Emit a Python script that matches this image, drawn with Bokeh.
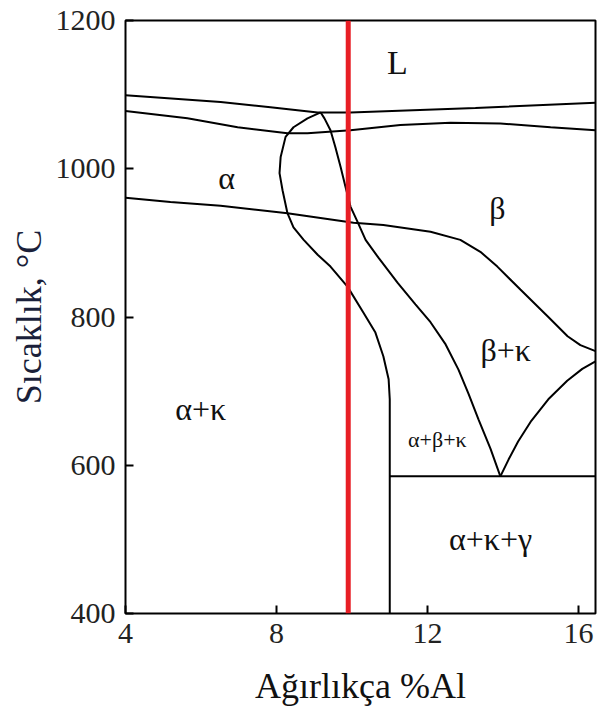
from bokeh.plotting import figure
from bokeh.models import Range1d, FixedTicker, ColumnDataSource
from bokeh.core.properties import value
from bokeh.embed import file_html
from bokeh.resources import INLINE

# ---------------- data ----------------
x_ticks = [4, 8, 12, 16]
y_ticks = [400, 600, 800, 1000, 1200]
x_lim = [4, 16.45]
y_lim = [400, 1200]

# liquidus (upper line)
liq_x = [4.0, 6.52, 7.84, 9.09, 9.96, 13.27, 16.45]
liq_y = [1099, 1090, 1083, 1076, 1076, 1082, 1089]

# solidus (lower line)
sol_x = [4.0, 5.64, 6.97, 8.29, 8.82, 9.96, 11.28, 12.61, 13.93, 15.26, 16.45]
sol_y = [1078, 1068, 1056, 1048, 1048, 1052, 1059, 1062, 1061, 1056, 1052]

# alpha / alpha+beta boundary continuing down as vertical line
ab_left_x = [9.17, 8.82, 8.45, 8.24, 8.11, 8.08, 8.16, 8.29, 8.45, 8.72, 9.09,
             9.43, 9.88, 10.30, 10.62, 10.83, 10.97, 11.0, 11.0]
ab_left_y = [1076, 1068, 1056, 1043, 1016, 994, 971, 940, 921, 904, 884,
             868, 841, 806, 779, 747, 716, 689, 400]

# alpha+beta / beta boundary down to eutectoid point
ab_right_x = [9.17, 9.27, 9.43, 9.56, 9.70, 9.83, 9.96, 10.15, 10.36, 10.70,
              11.21, 11.68, 12.08, 12.48, 12.82, 13.09, 13.35, 13.67, 13.93]
ab_right_y = [1076, 1068, 1052, 1029, 1002, 975, 949, 928, 904, 880,
              846, 817, 793, 763, 729, 696, 662, 622, 585]

# alpha solvus / beta - beta+kappa boundary
solvus_x = [4.0, 5.19, 6.52, 8.29, 10.04, 10.83, 12.08, 12.87, 13.40, 13.85,
            14.46, 15.18, 15.71, 16.05, 16.45]
solvus_y = [961, 955, 950, 940, 927, 924, 915, 904, 888, 868,
            837, 801, 774, 762, 754]

# beta+kappa lower boundary from eutectoid point
bk_x = [13.93, 14.15, 14.4, 14.75, 15.2, 15.7, 16.1, 16.45]
bk_y = [585, 608, 632, 660, 689, 714, 730, 740]

# eutectoid horizontal
eut_x = [11.0, 16.45]
eut_y = [585, 585]

# marked composition
red_al = 9.9

# region labels
lab_text = ["L", "α", "β", "β+κ", "α+κ", "α+β+κ", "α+κ+γ"]
lab_x = [11.2, 6.68, 13.85, 14.07, 5.99, 12.26, 13.67]
lab_y = [1143, 988, 947, 756, 676, 635, 501]

# ---------------- figure ----------------
FONT = "Liberation Serif"
lab_size = ["34px", "32px", "32px", "32px", "32px", "22px", "32px"]

p = figure(width=605, height=708, output_backend="svg", toolbar_location=None,
           x_range=Range1d(*x_lim), y_range=Range1d(*y_lim),
           min_border_left=125, min_border_right=10, min_border_top=20,
           min_border_bottom=93)
p.background_fill_color = "white"
p.border_fill_color = "white"
p.outline_line_color = "black"
p.outline_line_width = 2
p.grid.visible = False

for ax in (p.xaxis[0], p.yaxis[0]):
    ax.axis_line_color = None
    ax.major_tick_in = 8
    ax.major_tick_out = 0
    ax.minor_tick_line_color = None
    ax.major_tick_line_color = "black"
    ax.major_tick_line_width = 2
    ax.major_label_text_font = FONT
    ax.major_label_text_font_size = "30px"
    ax.major_label_text_color = "#222222"
    ax.axis_label_text_font = FONT
    ax.axis_label_text_font_size = "36px"
    ax.axis_label_text_font_style = "normal"

p.xaxis.axis_label_text_color = "#111111"
p.yaxis.axis_label_text_color = "#1a1f3a"
p.xaxis.ticker = FixedTicker(ticks=x_ticks)
p.yaxis.ticker = FixedTicker(ticks=y_ticks)
p.xaxis.major_label_standoff = 10
p.yaxis.major_label_standoff = 10
p.xaxis.axis_label = "Ağırlıkça %Al"
p.yaxis.axis_label = "Sıcaklık, °C"
p.xaxis.axis_label_standoff = 20
p.yaxis.axis_label_standoff = 4

lw = 2
for xs, ys in [(liq_x, liq_y), (sol_x, sol_y), (ab_left_x, ab_left_y),
               (ab_right_x, ab_right_y), (solvus_x, solvus_y), (bk_x, bk_y),
               (eut_x, eut_y)]:
    p.line(xs, ys, line_color="black", line_width=lw)

p.line([red_al, red_al], y_lim, line_color="#e81e25", line_width=5)

src = ColumnDataSource(dict(x=lab_x, y=lab_y, t=lab_text, s=lab_size))
p.text(x="x", y="y", text="t", source=src, text_font=value(FONT),
       text_font_size="s", text_align="center", text_baseline="middle",
       text_color="#111111")

open("out.html", "w").write(file_html(p, INLINE))
